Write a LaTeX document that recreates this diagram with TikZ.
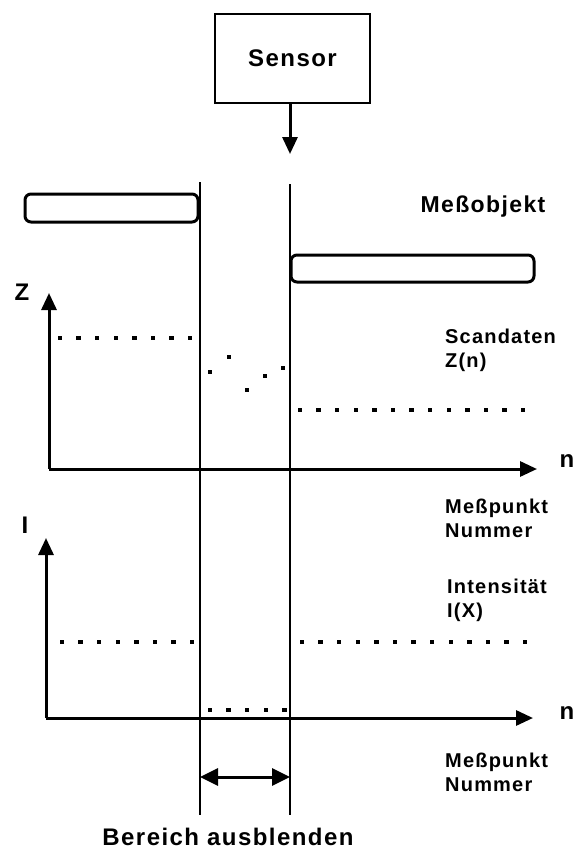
\documentclass[tikz,border=0pt]{standalone}
\usepackage{fontspec}
\setmainfont{Liberation Sans}[LetterSpace=6]
\usetikzlibrary{arrows.meta,positioning}

\begin{document}
\begin{tikzpicture}[x=1pt,y=-1pt,
    point/.style={rectangle,fill=black,minimum size=4.5pt,inner sep=0pt},
    textnote/.style={font=\fontsize{20}{24}\selectfont\bfseries,inner sep=0pt,align=left},
    axislabel/.style={font=\fontsize{24}{28}\selectfont\bfseries,inner sep=0pt},
    object/.style={draw,line width=3pt,rounded corners=6pt,inner sep=0pt},
    axisline/.style={line width=3pt,-{Triangle[length=17pt,width=15pt]}},
    node distance = 18.6pt]
          \useasboundingbox (0,0) rectangle (574,852);
          % Sensor und Strahl
          \node[draw,line width=2pt,minimum width=155pt,minimum height=89pt,
                font=\fontsize{24}{28}\selectfont\bfseries] (sensor) at (292.5,58.5) {Sensor};
          \coordinate (beam) at (290,154);
          \draw[line width=3pt,-{Triangle[length=17pt,width=15pt]}] (beam |- sensor.south) -- (beam);
          % Messobjekt
          \node[object,minimum width=173pt,minimum height=28pt] (objL) at (111.5,208) {};
          \node[object,minimum width=243pt,minimum height=27pt] (objR) at (412.5,268.5) {};
          \node[textnote,font=\fontsize{23}{26}\selectfont\bfseries] (mess) at (483,207) {Meßobjekt};
          % Bereichsgrenzen
          \coordinate (ltop) at (200,182);
          \coordinate (lbot) at (200,815);
          \coordinate (rtop) at (290,184);
          \coordinate (rbot) at (290,815);
          \draw[line width=1.5pt] (ltop) -- (lbot);
          \draw[line width=1.5pt] (rtop) -- (rbot);
          % Achsen
          \coordinate (o1) at (49,469);
          \coordinate (z1) at (49,293);
          \coordinate (n1) at (537,469);
          \coordinate (o2) at (46,718);
          \coordinate (i2) at (46,538);
          \coordinate (n2) at (533,718);
          \draw[axisline] (o1) -- (z1);
          \draw[axisline] (o1) -- (n1);
          \draw[axisline] (o2) -- (i2);
          \draw[axisline] (o2) -- (n2);
          \node[axislabel] (zlab)  at (22,292)  {Z};
          \node[axislabel] (ilab)  at (25,525)  {I};
          \node[axislabel] (nlab1) at (567,461) {n};
          \node[axislabel] (nlab2) at (567,713) {n};
          \node[textnote,anchor=west] (scan)  at (445,350) {Scandaten\\Z(n)};
          \node[textnote,anchor=west] (mp1)   at (445,518) {Meßpunkt\\Nummer};
          \node[textnote,anchor=west] (inten) at (447,600) {Intensität\\I(X)};
          \node[textnote,anchor=west] (mp2)   at (445,772) {Meßpunkt\\Nummer};
          % Scandaten
          \node[point](0)  at (60,338)       {};
          \node[point](1)  [right of = 0]    {};
          \node[point](2)  [right of = 1]    {};
          \node[point](3)  [right of = 2]    {};
          \node[point](4)  [right of = 3]    {};
          \node[point](5)  [right of = 4]    {};
          \node[point](6)  [right of = 5]    {};
          \node[point](7)  [right of = 6]    {};
          \node[point](8)  at (210,372)      {};
          \node[point](9)  at (229,357)      {};
          \node[point](10) at (247,390)      {};
          \node[point](11) at (265,376)      {};
          \node[point](12) at (283,368)      {};
          \node[point](13) at (300,410)      {};
          \node[point](14) [right of = 13]   {};
          \node[point](15) [right of = 14]   {};
          \node[point](16) [right of = 15]   {};
          \node[point](17) [right of = 16]   {};
          \node[point](18) [right of = 17]   {};
          \node[point](19) [right of = 18]   {};
          \node[point](20) [right of = 19]   {};
          \node[point](21) [right of = 20]   {};
          \node[point](22) [right of = 21]   {};
          \node[point](23) [right of = 22]   {};
          \node[point](24) [right of = 23]   {};
          \node[point](25) [right of = 24]   {};
          % Intensitaet
          \node[point](26) at (62,642)       {};
          \node[point](27) [right of = 26]   {};
          \node[point](28) [right of = 27]   {};
          \node[point](29) [right of = 28]   {};
          \node[point](30) [right of = 29]   {};
          \node[point](31) [right of = 30]   {};
          \node[point](32) [right of = 31]   {};
          \node[point](33) [right of = 32]   {};
          \node[point](34) at (302,642)      {};
          \node[point](35) [right of = 34]   {};
          \node[point](36) [right of = 35]   {};
          \node[point](37) [right of = 36]   {};
          \node[point](38) [right of = 37]   {};
          \node[point](39) [right of = 38]   {};
          \node[point](40) [right of = 39]   {};
          \node[point](41) [right of = 40]   {};
          \node[point](42) [right of = 41]   {};
          \node[point](43) [right of = 42]   {};
          \node[point](44) [right of = 43]   {};
          \node[point](45) [right of = 44]   {};
          \node[point](46) [right of = 45]   {};
          \node[point](47) at (210,710)      {};
          \node[point](48) [right of = 47]   {};
          \node[point](49) [right of = 48]   {};
          \node[point](50) [right of = 49]   {};
          \node[point](51) [right of = 50]   {};
          % Bereich ausblenden
          \coordinate (bl) at (lbot |- 0,777);
          \coordinate (br) at (rbot |- 0,777);
          \draw[line width=3pt,{Triangle[length=18pt,width=17pt]}-{Triangle[length=18pt,width=17pt]}] (bl) -- (br);
          \node[font=\fontsize{24}{28}\selectfont\bfseries,inner sep=0pt] (bereich) at (228,837) {Bereich ausblenden};
        \end{tikzpicture}
\end{document}
